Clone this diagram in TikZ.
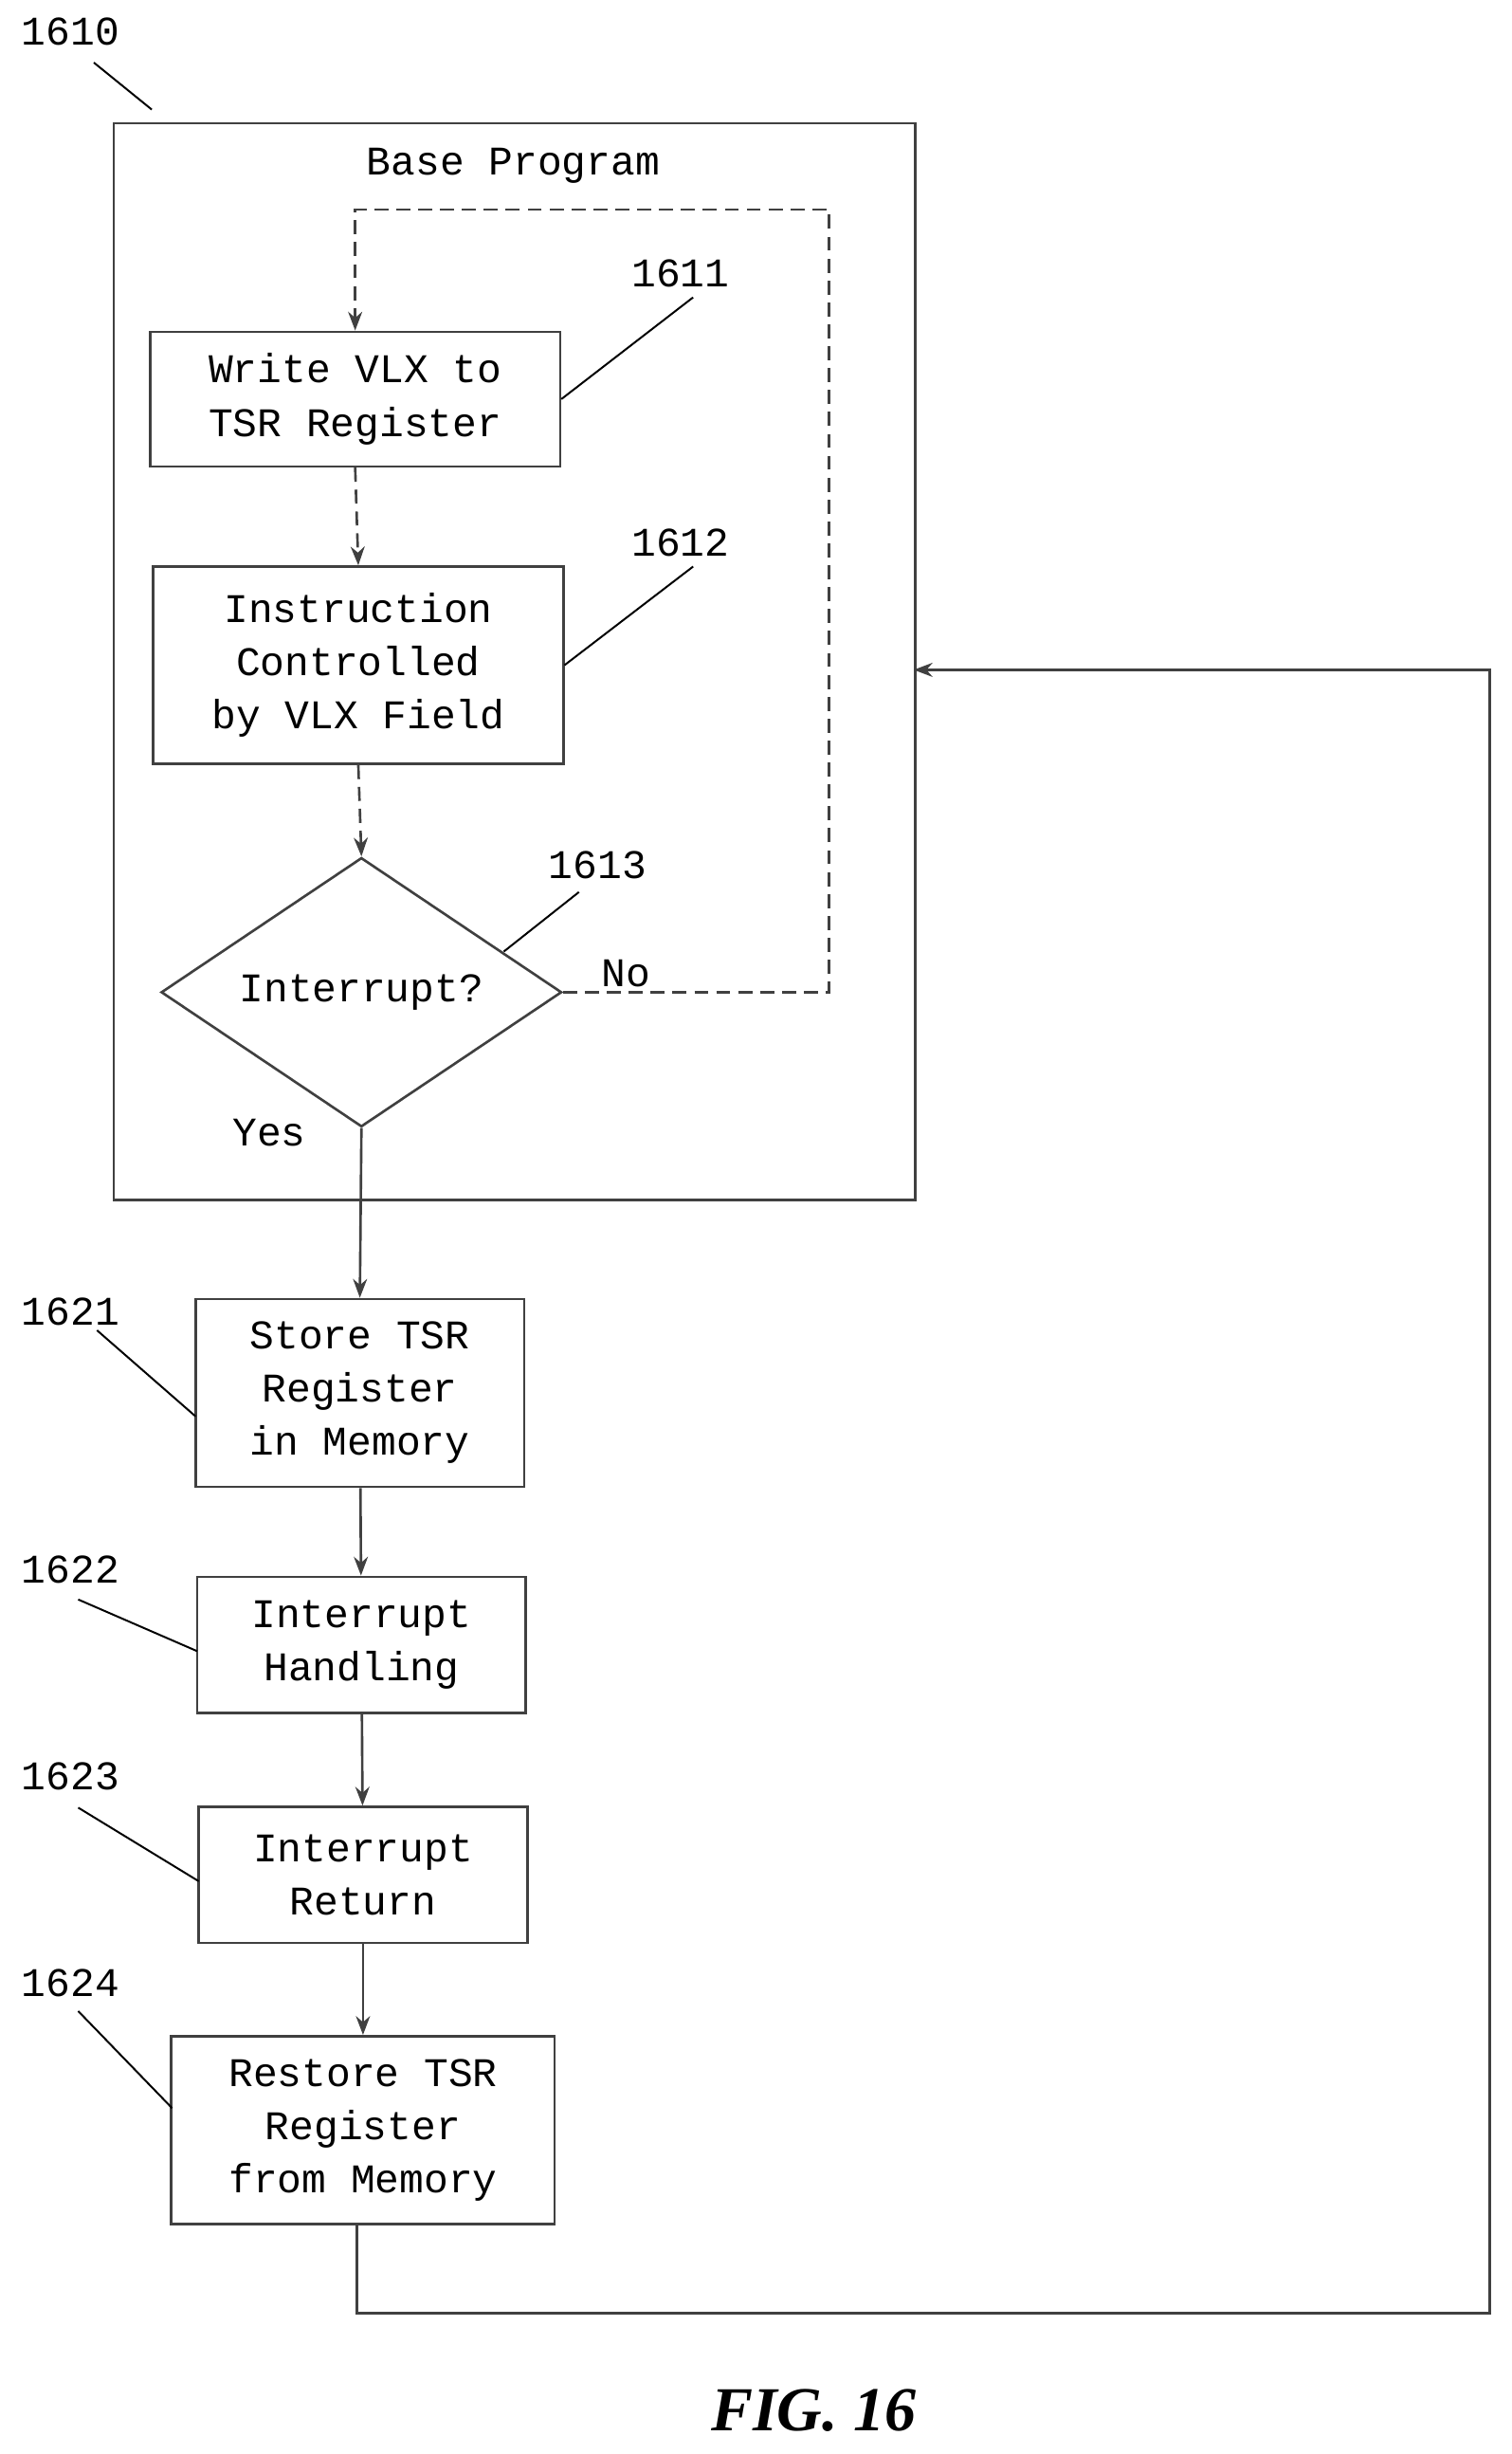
\documentclass[tikz,border=0pt]{standalone}
\usepackage{fontspec}
\setmainfont{Liberation Mono}
\newfontfamily\figfont{Liberation Serif}
\usetikzlibrary{shapes.geometric,arrows.meta}
\begin{document}
\begin{tikzpicture}[x=1pt,y=-1pt,
  line/.style={draw=black!75,line width=1.6pt},
  arr/.style={line,-{Stealth[length=12pt,width=9pt]}},
  dsh/.style={dash pattern=on 9pt off 5pt},
  box/.style={line,draw,align=center,inner sep=0pt,font=\fontsize{26}{34}\selectfont},
  lbl/.style={font=\fontsize{26}{30}\selectfont},
  lead/.style={draw=black,line width=1.2pt}]
\useasboundingbox (0,0) rectangle (966,1568);
\node[line,draw,minimum width=512pt,minimum height=688pt,anchor=north west] (base) at (72,78) {};
\node[lbl] (bp) at (328,106) {Base Program};
\node[lbl] (l1610) at (45,20) {1610};
\draw[lead] (60,40) -- (97,70);
\node[box,minimum width=262pt,minimum height=86pt] (b1) at (227,255) {Write VLX to\\TSR Register};
\node[lbl] (l1611) at (435,175) {1611};
\draw[lead] (443,190) -- (b1.east);
\node[box,minimum width=262pt,minimum height=126pt] (b2) at (229,425) {Instruction\\Controlled\\by VLX Field};
\node[lbl] (l1612) at (435,347) {1612};
\draw[lead] (443,362) -- (b2.east);
\node[line,draw,diamond,aspect=1.49,minimum width=256pt,minimum height=172pt,inner sep=0pt,font=\fontsize{26}{30}\selectfont] (d) at (231,634) {Interrupt?};
\node[lbl] (l1613) at (382,553) {1613};
\draw[lead] (370,570) -- (322,608);
\node[lbl] (no) at (400,622) {No};
\node[lbl] (yes) at (172,724) {Yes};
\coordinate (c1) at (530,634);
\coordinate (c2) at (530,134);
\coordinate (c3) at (227,134);
\draw[arr,dsh] (d.east) -- (c1) -- (c2) -- (c3) -- (b1.north);
\draw[arr,dsh] (b1.south) -- (b2.north);
\draw[arr,dsh] (b2.south) -- (d.north);
\node[box,minimum width=210pt,minimum height=120pt] (b21) at (230,890) {Store TSR\\Register\\in Memory};
\node[box,minimum width=210pt,minimum height=87pt] (b22) at (231,1051) {Interrupt\\Handling};
\node[box,minimum width=210pt,minimum height=87pt] (b23) at (232,1198) {Interrupt\\Return};
\node[box,minimum width=245pt,minimum height=120pt] (b24) at (232,1361) {Restore TSR\\Register\\from Memory};
\draw[arr] (d.south) -- (b21.north);
\draw[arr] (b21) -- (b22);
\draw[arr] (b22) -- (b23);
\draw[arr] (b23) -- (b24);
\node[lbl] (l1621) at (45,838) {1621};
\draw[lead] (62,850) -- (125,905);
\node[lbl] (l1622) at (45,1003) {1622};
\draw[lead] (50,1022) -- (126,1055);
\node[lbl] (l1623) at (45,1135) {1623};
\draw[lead] (50,1155) -- (127,1202);
\node[lbl] (l1624) at (45,1267) {1624};
\draw[lead] (50,1285) -- (110,1347);
\coordinate (r1) at (228,1478);
\coordinate (r2) at (952,1478);
\coordinate (r3) at (952,428);
\coordinate (r4) at (584,428);
\draw[arr] (b24.south -| r1) -- (r1) -- (r2) -- (r3) -- (r4);
\node[font=\figfont\bfseries\itshape\fontsize{40}{44}\selectfont] (fig) at (520,1540) {FIG. 16};
\end{tikzpicture}
\end{document}
